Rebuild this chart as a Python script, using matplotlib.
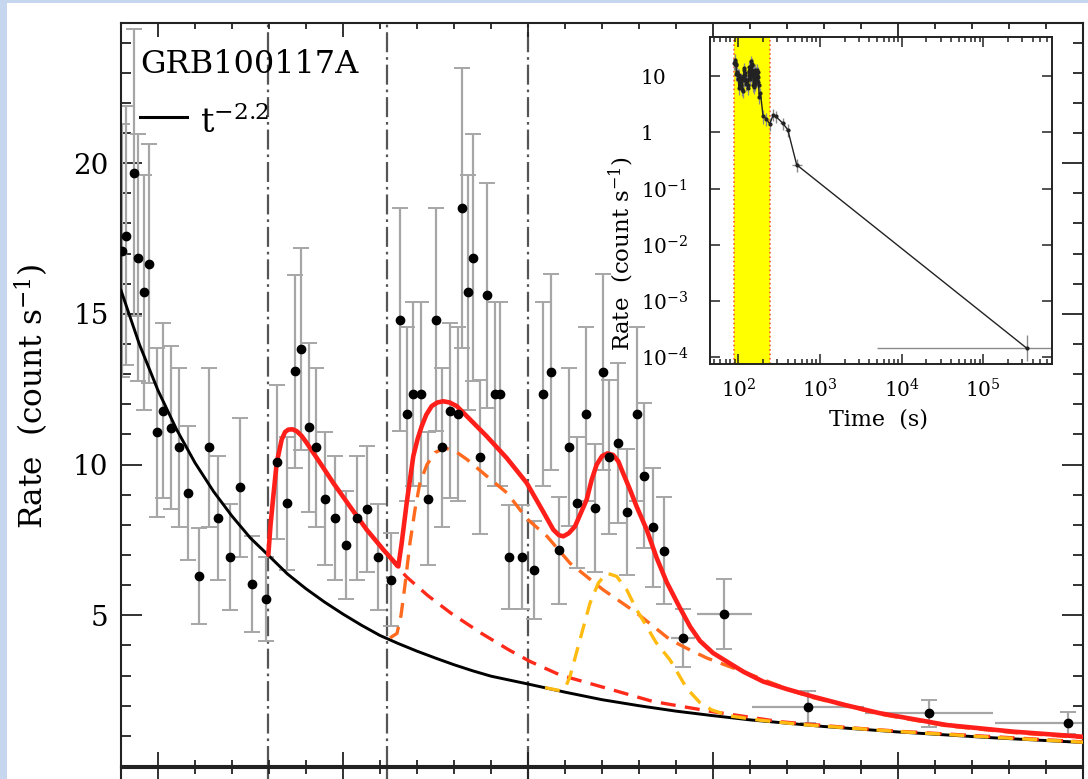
import numpy as np
import matplotlib
matplotlib.use('Agg')
import matplotlib.pyplot as plt
from matplotlib.ticker import MultipleLocator, FixedLocator, FuncFormatter, LogLocator, NullLocator, NullFormatter
from matplotlib.patches import Rectangle

plt.rcParams['font.family'] = ['DejaVu Serif']
plt.rcParams['mathtext.fontset'] = 'dejavuserif'

# ---- light curve (main panel) ----
t_obs = [89.16, 89.81, 91.11, 91.81, 92.78, 93.59, 94.79, 95.86, 97.11, 98.41,
         99.82, 101.65, 103.32, 104.78, 106.63, 108.30, 110.19, 112.51, 114.25, 115.87,
         117.22, 118.19, 119.49, 120.67, 122.08, 123.65, 125.49, 127.22, 128.84, 130.63,
         132.78, 134.29, 135.33, 136.40, 137.60, 138.83, 140.08, 141.00, 142.35, 143.60,
         144.34, 145.22, 146.03, 147.22, 148.40, 149.65, 150.46, 151.97, 153.98, 155.97,
         157.48, 158.68, 160.08, 161.65, 162.99, 164.40, 165.86, 167.11, 168.18, 169.64,
         171.10, 172.63, 173.81, 175.32, 177.10, 180.08, 186.83, 200.45, 220.07, 242.61]
rate = [17.09, 17.59, 19.69, 16.87, 15.72, 16.67, 11.07, 11.79, 11.23, 10.57,
        9.05, 6.31, 10.57, 8.22, 6.93, 9.25, 6.04, 5.54, 10.09, 8.71,
        13.10, 13.85, 11.24, 10.57, 8.87, 8.22, 7.33, 8.22, 8.53, 6.93,
        6.18, 14.81, 11.68, 12.33, 12.33, 8.87, 14.81, 10.57, 11.79, 11.68,
        18.51, 15.72, 16.87, 10.26, 15.61, 12.33, 12.33, 6.93, 6.93, 6.51,
        12.33, 13.07, 7.15, 10.57, 8.74, 11.68, 8.55, 13.07, 10.26, 10.72,
        8.42, 11.68, 9.63, 7.92, 7.14, 4.24, 5.04, 1.97, 1.75, 1.42]
rate_err = [4.2, 4.3, 4.75, 4.1, 3.9, 3.95, 2.8, 2.9, 2.7, 2.65,
            2.23, 1.6, 2.65, 2.06, 1.76, 2.3, 1.58, 1.4, 2.55, 2.2,
            3.2, 3.35, 2.8, 2.65, 2.2, 2.05, 1.8, 2.05, 2.1, 1.75,
            1.55, 3.7, 2.9, 3.05, 3.05, 2.2, 3.7, 2.65, 2.9, 2.9,
            4.64, 3.9, 4.09, 2.55, 3.72, 3.05, 3.05, 1.72, 1.72, 1.62,
            3.05, 3.25, 1.78, 2.62, 2.17, 2.9, 2.12, 3.25, 2.55, 2.66,
            2.09, 2.9, 2.4, 1.97, 1.77, 0.97, 1.16, 0.53, 0.45, 0.36]
t_err = [0] * 65 + [1.95, 4.46, 9.1, 10.4, 11.9]

# flare start times (dash-dot lines)
flare_starts = [112.9, 132.1, 155.0]

# ---- model curves ----
bg_t = [89, 92, 95, 98, 101, 104, 107, 110, 113, 116, 119, 122, 125, 128, 131, 134, 137,
        140, 143, 146, 149, 155, 161, 167, 173, 179, 185, 191, 203, 215, 230, 245]
bg_rate = [15.78, 13.98, 12.46, 11.17, 10.06, 9.11, 8.29, 7.56, 6.97, 6.37, 5.88, 5.44,
           5.04, 4.67, 4.33, 4.06, 3.81, 3.58, 3.36, 3.16, 2.98, 2.72, 2.45, 2.2, 2.0,
           1.82, 1.67, 1.53, 1.31, 1.13, 0.94, 0.78]

tot_t = [112.89, 113.25, 113.70, 114.25, 115.06, 115.60, 116.13, 116.80, 117.49, 118.30,
         119.11, 121.27, 123.43, 126.13, 128.84, 131.53, 133.97, 134.52, 135.33, 136.40,
         137.10, 137.76, 138.50, 139.38, 140.30, 141.26, 142.30, 143.44, 145.59, 148.30,
         151.54, 154.79, 157.43, 159.10, 160.00, 160.72, 161.60, 162.62, 164.52, 165.33,
         166.14, 167.00, 167.86, 168.80, 169.64, 170.45, 171.54, 172.63, 174.25, 175.87,
         177.49, 179.65, 181.30, 182.89, 185.00, 187.76, 190.00, 193.15, 197.00, 201.26,
         206.50, 212.08, 222.89, 233.69, 245.0]
tot_rate = [7.01, 8.00, 8.95, 10.06, 10.83, 11.08, 11.16, 11.17, 11.11, 10.95,
            10.72, 10.06, 9.39, 8.61, 7.84, 7.18, 6.62, 7.40, 8.73, 10.28,
            10.85, 11.27, 11.65, 11.94, 12.06, 12.10, 12.06, 11.94, 11.50, 10.94,
            10.22, 9.39, 8.45, 7.84, 7.66, 7.62, 7.72, 7.95, 8.84, 9.50,
            10.00, 10.28, 10.37, 10.32, 10.11, 9.70, 9.17, 8.60, 7.84, 6.90,
            6.10, 5.24, 4.62, 4.15, 3.75, 3.40, 3.12, 2.80, 2.55, 2.30,
            2.02, 1.75, 1.36, 1.14, 0.97]

p1_t = [132.30, 133.92, 135.33, 138.78, 142.51, 147.38, 151.92, 155.32, 160.19, 168.78,
        175.27, 181.27, 185.00, 195.86, 206.57, 215.32, 231.54, 245.0]
p1_rate = [7.00, 6.58, 6.27, 5.65, 5.07, 4.41, 3.85, 3.47, 3.02, 2.52,
           2.14, 1.93, 1.80, 1.47, 1.28, 1.15, 0.96, 0.80]

p2_t = [132.62, 133.76, 134.41, 135.05, 135.86, 136.67, 137.48, 138.62, 139.92, 141.54,
        143.16, 145.11, 148.35, 151.59, 154.84, 158.08, 161.81, 167.16, 172.67, 178.03,
        181.27, 184.03, 190.51, 197.48, 201.21, 212.08, 222.94, 233.64, 245.0]
p2_rate = [4.25, 4.40, 5.00, 6.00, 7.40, 8.50, 9.40, 10.00, 10.40, 10.55,
           10.45, 10.17, 9.61, 9.06, 8.20, 7.62, 6.73, 5.85, 5.07, 4.19,
           3.85, 3.58, 3.08, 2.52, 2.27, 1.72, 1.33, 1.11, 0.94]

p3_t = [157.76, 160.19, 161.16, 161.81, 163.43, 165.05, 166.40, 167.76, 169.38,
        171.00, 172.63, 174.25, 175.76, 178.03, 180.73, 182.89, 184.79, 187.76, 192.62,
        199.11, 215.32, 231.54, 245.0]
p3_rate = [2.60, 2.50, 2.65, 2.97, 4.19, 5.40, 6.07, 6.40, 6.29,
           5.85, 5.18, 4.63, 4.10, 3.52, 2.58, 2.10, 1.86, 1.66, 1.52,
           1.38, 1.14, 0.94, 0.79]

# ---- late-time points for the inset ----
late_t = [268, 288, 349, 403, 518, 3.4e5]
late_rate = [2.07, 1.93, 1.47, 1.12, 0.266, 1.45e-4]
late_err_lo = [0.5, 0.47, 0.36, 0.28, 0.07, 6.0e-5]
late_err_hi = [0.5, 0.47, 0.36, 0.28, 0.07, 1.05e-4]
late_t_lo = [8, 10, 25, 25, 68, 3.35e5]
late_t_hi = [8, 10, 25, 25, 78, 6.6e5]

W, H = 1088, 779
fig = plt.figure(figsize=(W / 100, H / 100), dpi=100, facecolor='#c6d6ef')
fig.patches.append(Rectangle((7 / W, 0), 1 - 7 / W, 1 - 3 / H, transform=fig.transFigure,
                             facecolor='white', edgecolor='none', zorder=-1))

ax = fig.add_axes([121 / W, 13 / H, 962 / W, 743 / H])
axl = fig.add_axes([121 / W, -0.2, 962 / W, 0.2 + 11 / H])

for a in (ax, axl):
    a.set_xlim(89, 245)
    a.xaxis.set_major_locator(MultipleLocator(30, offset=5))
    a.xaxis.set_minor_locator(MultipleLocator(6, offset=5))
    for s in a.spines.values():
        s.set_linewidth(1.5)
        s.set_color('#222222')
    for v in flare_starts:
        a.axvline(v, color='#555555', lw=1.6, ls=(0, (9, 2.2, 1.2, 2.2)), zorder=1)

ax.set_ylim(0, 24.65)
ax.yaxis.set_major_locator(FixedLocator([0, 5, 10, 15, 20]))
ax.yaxis.set_major_formatter(FuncFormatter(lambda v, p: '' if v == 0 else '%g' % v))
ax.yaxis.set_minor_locator(MultipleLocator(1))
ax.tick_params(which='both', direction='in', top=True, right=True, labelbottom=False,
               width=1.3, color='#222222')
ax.tick_params(axis='x', which='major', length=10)
ax.tick_params(axis='x', which='minor', length=4.5)
ax.tick_params(axis='y', which='major', length=15, labelsize=20, pad=9)
ax.tick_params(axis='y', which='minor', length=7)
ax.set_ylabel('Rate  (count s$^{-1}$)', fontsize=22.5)
ax.yaxis.set_label_coords(-0.073, 0.497)

axl.set_ylim(0, 1)
axl.yaxis.set_major_locator(NullLocator())
axl.tick_params(which='both', direction='in', top=True, bottom=False, labelbottom=False,
                width=1.3, color='#222222')
axl.tick_params(axis='x', which='major', length=10)
axl.tick_params(axis='x', which='minor', length=4.5)

# data
ax.errorbar(t_obs, rate, yerr=rate_err, fmt='none', ecolor='#a6a6a6', elinewidth=1.6,
            capsize=5.5, capthick=1.4, zorder=2)
ax.errorbar(t_obs, rate, xerr=t_err, fmt='none', ecolor='#a6a6a6', elinewidth=1.6,
            capsize=0, zorder=2)

# model
ax.plot(bg_t, bg_rate, color='black', lw=2.1, zorder=3, solid_joinstyle='round')
ax.plot(p1_t, p1_rate, color='#ff2a1a', lw=2.4, ls=(0, (4.5, 2.8)), zorder=3)
ax.plot(p2_t, p2_rate, color='#ff6a1e', lw=2.4, ls=(0, (4.5, 2.8)), zorder=3)
ax.plot(p3_t, p3_rate, color='#ffbb11', lw=2.4, ls=(0, (4.5, 2.8)), zorder=3)
ax.plot(tot_t, tot_rate, color='#ff1f1a', lw=3.3, zorder=4, solid_joinstyle='round',
        solid_capstyle='round')

ax.plot(t_obs, rate, 'o', color='black', ms=6, zorder=5)

ax.text(0.0198, 0.9323, 'GRB100117A', transform=ax.transAxes, fontsize=23, va='baseline',
        ha='left')
ax.plot([0.0198, 0.0686], [0.8739, 0.8739], color='black', lw=2.2, transform=ax.transAxes)
ax.text(0.0821, 0.8516, 't$^{-2.2}$', transform=ax.transAxes, fontsize=24, va='baseline',
        ha='left')

# ---- inset ----
axi = fig.add_axes([710 / W, (779 - 364) / H, 342 / W, 327 / H])
axi.set_facecolor('white')
axi.set_xscale('log')
axi.set_yscale('log')
axi.set_xlim(45, 6.92e5)
axi.set_ylim(7.6e-5, 50)
axi.axvspan(89, 245, color='#ffff00', lw=0, zorder=0)
for v in (89, 245):
    axi.axvline(v, color='#ff5a3a', ls=':', lw=1.2, zorder=1)

ins_t = list(t_obs) + late_t
ins_r = list(rate) + late_rate
axi.errorbar(t_obs, rate, yerr=rate_err, fmt='none', ecolor='#8a8a8a', elinewidth=0.9, zorder=2)
axi.errorbar(late_t, late_rate, yerr=[late_err_lo, late_err_hi], xerr=[late_t_lo, late_t_hi],
             fmt='none', ecolor='#8a8a8a', elinewidth=1.0, zorder=2)
axi.plot(ins_t, ins_r, color='#222222', lw=1.0, zorder=3)
axi.plot(ins_t, ins_r, 'o', color='#222222', ms=2, zorder=4)

axi.xaxis.set_major_locator(FixedLocator([1e2, 1e3, 1e4, 1e5]))
axi.xaxis.set_major_formatter(FuncFormatter(lambda v, p: r'$10^{%d}$' % round(np.log10(v))))
axi.xaxis.set_minor_locator(LogLocator(base=10, subs=np.arange(2, 10), numticks=20))
axi.xaxis.set_minor_formatter(NullFormatter())


def yfmt(v, p):
    e = int(round(np.log10(v)))
    if e == 1:
        return '10'
    if e == 0:
        return '1'
    return r'$10^{%d}$' % e


axi.yaxis.set_major_locator(FixedLocator([1e1, 1e0, 1e-1, 1e-2, 1e-3, 1e-4]))
axi.yaxis.set_major_formatter(FuncFormatter(yfmt))
axi.yaxis.set_minor_locator(NullLocator())
axi.tick_params(which='both', direction='in', top=True, right=True, width=1.1, color='#222222')
axi.tick_params(which='major', length=7, labelsize=14.5)
axi.tick_params(which='minor', length=3.5)
axi.tick_params(axis='x', which='major', pad=10)
axi.tick_params(axis='y', which='major', pad=50)
for s in axi.spines.values():
    s.set_linewidth(1.4)
    s.set_color('#222222')
for lab in axi.get_yticklabels():
    lab.set_horizontalalignment('left')

axi.set_xlabel('Time  (s)', fontsize=16)
axi.xaxis.set_label_coords(0.494, -0.135)
axi.set_ylabel('Rate  (count s$^{-1}$)', fontsize=16.5)
axi.yaxis.set_label_coords(-0.216, 0.339)

fig.savefig('out.png', dpi=100, facecolor=fig.get_facecolor())
